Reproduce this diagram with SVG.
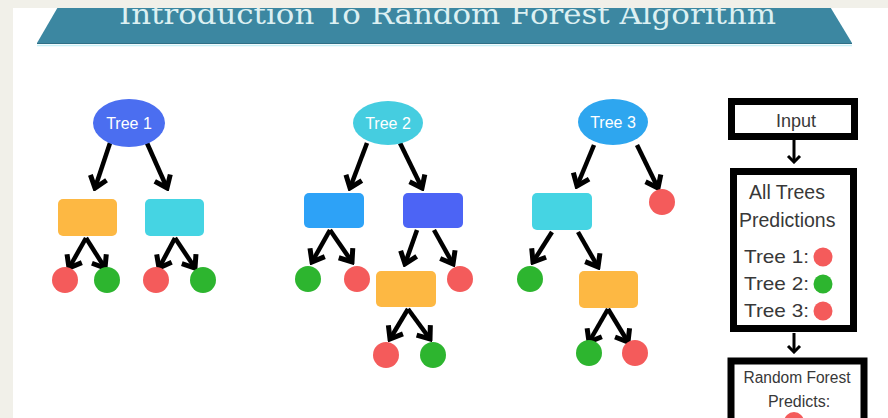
<svg xmlns="http://www.w3.org/2000/svg" width="888" height="418" viewBox="0 0 888 418">
  <style>
    .lbl { font-family: "Liberation Sans", Arial, sans-serif; fill: #ffffff; font-size: 16px; text-anchor: middle; }
    .panel { font-family: "Liberation Sans", Arial, sans-serif; fill: #383838; }
    .frame { fill: #ffffff; stroke: #000000; stroke-width: 7; }
    .arrow { stroke: #000000; stroke-width: 4.5; fill: none; marker-end: url(#head); }
    .arrow-s { stroke: #000000; stroke-width: 3; fill: none; marker-end: url(#headS); }
    .red { fill: #f45b5b; }
    .green { fill: #2db52f; }
    .orange { fill: #fdb843; }
    .cyan { fill: #45d4e3; }
  </style>
  <defs>
    <marker id="head" viewBox="-15 -12 18 24" markerWidth="18" markerHeight="24" refX="0" refY="0" orient="auto" markerUnits="userSpaceOnUse">
      <path d="M-11,-8.5 L0,0 L-11,8.5" fill="none" stroke="#000" stroke-width="5"/>
    </marker>
    <marker id="headS" viewBox="-10 -8 12 16" markerWidth="12" markerHeight="16" refX="0" refY="0" orient="auto" markerUnits="userSpaceOnUse">
      <path d="M-6,-6 L0,0 L-6,6" fill="none" stroke="#000" stroke-width="3"/>
    </marker>
  </defs>

  <!-- page -->
  <rect x="0" y="0" width="888" height="418" fill="#ffffff"/>

  <!-- title ribbon -->
  <g id="title">
    <polygon points="62,0 826,0 852,43 37,43" fill="#3c87a1"/>
    <line x1="37" y1="43.5" x2="852" y2="43.5" stroke="#2f6f86" stroke-width="1"/>
    <line x1="37" y1="45.5" x2="852" y2="45.5" stroke="#c8f0f6" stroke-width="1.5"/>
    <text x="119" y="23.5" textLength="657" lengthAdjust="spacingAndGlyphs" font-family="'DejaVu Serif', 'Liberation Serif', serif" font-size="27" fill="#dcf0f2">Introduction To Random Forest Algorithm</text>
  </g>

  <g id="connectors">
    <!-- tree 1 -->
    <line class="arrow" x1="110" y1="143" x2="95" y2="188"/>
    <line class="arrow" x1="147" y1="143" x2="167" y2="188"/>
    <line class="arrow" x1="86" y1="238" x2="69" y2="268"/>
    <line class="arrow" x1="86" y1="238" x2="105" y2="268"/>
    <line class="arrow" x1="175" y1="238" x2="159" y2="268"/>
    <line class="arrow" x1="175" y1="238" x2="195" y2="268"/>
    <!-- tree 2 -->
    <line class="arrow" x1="367" y1="143" x2="350" y2="188"/>
    <line class="arrow" x1="400" y1="143" x2="422" y2="188"/>
    <line class="arrow" x1="330" y1="230" x2="312" y2="262"/>
    <line class="arrow" x1="330" y1="230" x2="352" y2="262"/>
    <line class="arrow" x1="417" y1="230" x2="405" y2="264"/>
    <line class="arrow" x1="434" y1="230" x2="453" y2="264"/>
    <line class="arrow" x1="408" y1="309" x2="390" y2="339"/>
    <line class="arrow" x1="408" y1="309" x2="430" y2="339"/>
    <!-- tree 3 -->
    <line class="arrow" x1="594" y1="145" x2="577" y2="186"/>
    <line class="arrow" x1="637" y1="145" x2="658" y2="188"/>
    <line class="arrow" x1="552" y1="232" x2="533" y2="262"/>
    <line class="arrow" x1="578" y1="232" x2="598" y2="267"/>
    <line class="arrow" x1="608" y1="309" x2="589" y2="342"/>
    <line class="arrow" x1="608" y1="309" x2="628" y2="342"/>
    <!-- flow panel -->
    <line class="arrow-s" x1="794" y1="140" x2="794" y2="162"/>
    <line class="arrow-s" x1="794" y1="333" x2="794" y2="352"/>
  </g>

  <!-- Tree 1 -->
  <g id="tree1">
    <ellipse cx="129" cy="123" rx="36" ry="24" fill="#4b6ef0"/>
    <text class="lbl" x="129" y="129">Tree 1</text>
  </g>
  <g id="tree1-left"><rect class="orange" x="58" y="199" width="59" height="37" rx="5"/></g>
  <g id="tree1-right"><rect class="cyan" x="145" y="199" width="59" height="37" rx="5"/></g>
  <g id="tree1-leaf1"><circle class="red" cx="65" cy="280" r="13"/></g>
  <g id="tree1-leaf2"><circle class="green" cx="107" cy="280" r="13"/></g>
  <g id="tree1-leaf3"><circle class="red" cx="156" cy="280" r="13"/></g>
  <g id="tree1-leaf4"><circle class="green" cx="203" cy="280" r="13"/></g>

  <!-- Tree 2 -->
  <g id="tree2">
    <ellipse cx="388" cy="123" rx="35" ry="22" fill="#45cde0"/>
    <text class="lbl" x="388" y="129">Tree 2</text>
  </g>
  <g id="tree2-left"><rect x="304" y="193" width="60" height="35" rx="5" fill="#2da2f7"/></g>
  <g id="tree2-right"><rect x="403" y="193" width="60" height="35" rx="5" fill="#4c64f5"/></g>
  <g id="tree2-mid"><rect class="orange" x="376" y="271" width="60" height="36" rx="5"/></g>
  <g id="tree2-leaf1"><circle class="green" cx="308" cy="279" r="13"/></g>
  <g id="tree2-leaf2"><circle class="red" cx="357" cy="279" r="13"/></g>
  <g id="tree2-leaf3"><circle class="red" cx="460" cy="279" r="13"/></g>
  <g id="tree2-leaf4"><circle class="red" cx="386" cy="355" r="13"/></g>
  <g id="tree2-leaf5"><circle class="green" cx="433" cy="355" r="13"/></g>

  <!-- Tree 3 -->
  <g id="tree3">
    <ellipse cx="613" cy="122" rx="35" ry="23" fill="#2ea6ef"/>
    <text class="lbl" x="613" y="128">Tree 3</text>
  </g>
  <g id="tree3-left"><rect class="cyan" x="532" y="193" width="60" height="37" rx="5"/></g>
  <g id="tree3-mid"><rect class="orange" x="579" y="271" width="59" height="37" rx="5"/></g>
  <g id="tree3-leaf1"><circle class="red" cx="662" cy="202" r="13"/></g>
  <g id="tree3-leaf2"><circle class="green" cx="530" cy="279" r="13"/></g>
  <g id="tree3-leaf3"><circle class="green" cx="589" cy="353" r="13"/></g>
  <g id="tree3-leaf4"><circle class="red" cx="635" cy="353" r="13"/></g>

  <!-- voting flow -->
  <g id="input">
    <rect class="frame" x="731.5" y="101.5" width="123" height="35"/>
    <text class="panel" x="796" y="127" font-size="18" text-anchor="middle">Input</text>
  </g>
  <g id="predictions">
    <rect class="frame" x="733.5" y="171.5" width="120" height="157"/>
    <text class="panel" x="787" y="199" font-size="19.5" text-anchor="middle">All Trees</text>
    <text class="panel" x="739" y="227" font-size="19.5">Predictions</text>
    <text class="panel" x="744" y="263" font-size="19" textLength="65" lengthAdjust="spacingAndGlyphs">Tree 1:</text>
    <circle class="red" cx="823" cy="257" r="9.5"/>
    <text class="panel" x="744" y="290" font-size="19" textLength="65" lengthAdjust="spacingAndGlyphs">Tree 2:</text>
    <circle class="green" cx="823" cy="284" r="9.5"/>
    <text class="panel" x="744" y="317" font-size="19" textLength="65" lengthAdjust="spacingAndGlyphs">Tree 3:</text>
    <circle class="red" cx="823" cy="311" r="9.5"/>
  </g>
  <g id="result">
    <rect class="frame" x="731" y="361" width="133" height="80" stroke-width="8"/>
    <text class="panel" x="797" y="383" font-size="16" text-anchor="middle" textLength="107" lengthAdjust="spacingAndGlyphs" fill="#505050">Random Forest</text>
    <text class="panel" x="799" y="407" font-size="16" text-anchor="middle" fill="#505050">Predicts:</text>
    <circle class="red" cx="794" cy="422" r="10"/>
  </g>

  <!-- page margin -->
  <rect x="0" y="0" width="888" height="8" fill="#f1f0e9"/>
  <rect x="0" y="0" width="13" height="418" fill="#f1f0e9"/>
</svg>
